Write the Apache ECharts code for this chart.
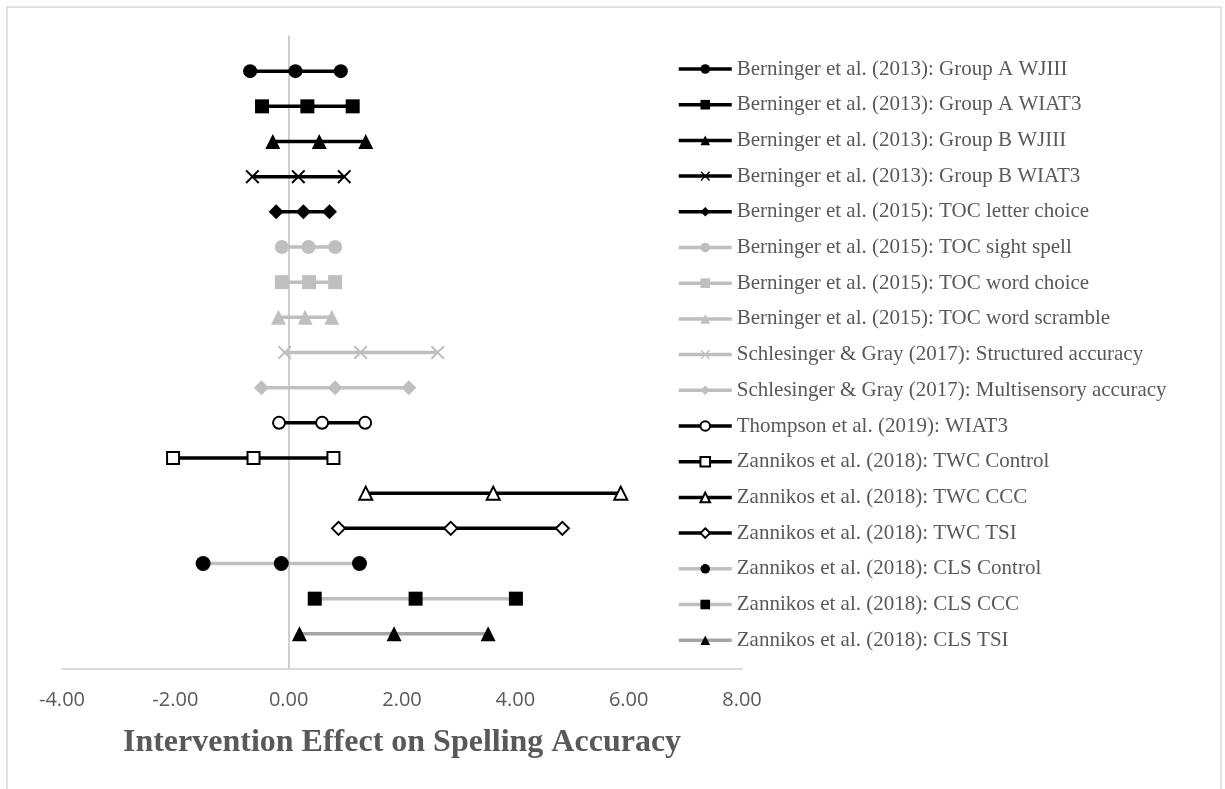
<!DOCTYPE html>
<html>
<head>
<meta charset="utf-8">
<script src="https://cdn.jsdelivr.net/npm/echarts@6/dist/echarts.min.js"></script>
<style>
html,body{margin:0;padding:0;background:#fff;}
#chart{width:1225px;height:789px;}
</style>
</head>
<body>
<div id="chart"></div>
<script>
// ---- data ----
const studyLabels = [
  'Berninger et al. (2013): Group A WJIII',
  'Berninger et al. (2013): Group A WIAT3',
  'Berninger et al. (2013): Group B WJIII',
  'Berninger et al. (2013): Group B WIAT3',
  'Berninger et al. (2015): TOC letter choice',
  'Berninger et al. (2015): TOC sight spell',
  'Berninger et al. (2015): TOC word choice',
  'Berninger et al. (2015): TOC word scramble',
  'Schlesinger & Gray (2017): Structured accuracy',
  'Schlesinger & Gray (2017): Multisensory accuracy',
  'Thompson et al. (2019): WIAT3',
  'Zannikos et al. (2018): TWC Control',
  'Zannikos et al. (2018): TWC CCC',
  'Zannikos et al. (2018): TWC TSI',
  'Zannikos et al. (2018): CLS Control',
  'Zannikos et al. (2018): CLS CCC',
  'Zannikos et al. (2018): CLS TSI'
];
const lowerCI  = [-0.68, -0.47, -0.28, -0.64, -0.22, -0.12, -0.12, -0.18, -0.07, -0.48, -0.17, -2.04, 1.36, 0.88, -1.51, 0.46, 0.19];
const effect   = [ 0.12,  0.33,  0.54,  0.17,  0.26,  0.35,  0.36,  0.29,  1.27,  0.82,  0.59, -0.62, 3.61, 2.86, -0.13, 2.24, 1.86];
const upperCI  = [ 0.92,  1.13,  1.36,  0.98,  0.72,  0.82,  0.82,  0.76,  2.63,  2.12,  1.35,  0.79, 5.86, 4.83,  1.25, 4.01, 3.52];
const rowPos   = [17, 16, 15, 14, 13, 12, 11, 10, 9, 8, 7, 6, 5, 4, 3, 2, 1];
const xTicks   = [-4, -2, 0, 2, 4, 6, 8];

// ---- styles (kept separate from data) ----
const BLACK = '#000000', GRAY = '#bfbfbf', DGRAY = '#a6a6a6';
const XPATH = 'path://M0,1 L1,0 L5,4 L9,0 L10,1 L6,5 L10,9 L9,10 L5,6 L1,10 L0,9 L4,5 Z';
const styles = [
  {line: BLACK, mark: BLACK, sym: 'circle', size: 14},
  {line: BLACK, mark: BLACK, sym: 'rect', size: 14},
  {line: BLACK, mark: BLACK, sym: 'triangle', size: 15},
  {line: BLACK, mark: BLACK, sym: XPATH, size: 14},
  {line: BLACK, mark: BLACK, sym: 'diamond', size: 15},
  {line: GRAY, mark: GRAY, sym: 'circle', size: 14},
  {line: GRAY, mark: GRAY, sym: 'rect', size: 14},
  {line: GRAY, mark: GRAY, sym: 'triangle', size: 15},
  {line: GRAY, mark: GRAY, sym: XPATH, size: 14},
  {line: GRAY, mark: GRAY, sym: 'diamond', size: 15},
  {line: BLACK, mark: BLACK, sym: 'emptyCircle', size: 12, empty: true},
  {line: BLACK, mark: BLACK, sym: 'emptyRect', size: 12, empty: true},
  {line: BLACK, mark: BLACK, sym: 'emptyTriangle', size: 13, empty: true},
  {line: BLACK, mark: BLACK, sym: 'emptyDiamond', size: 13, empty: true},
  {line: GRAY, mark: BLACK, sym: 'circle', size: 15},
  {line: GRAY, mark: BLACK, sym: 'rect', size: 14},
  {line: DGRAY, mark: BLACK, sym: 'triangle', size: 15}
];

const series = studyLabels.map((name, i) => {
  const st = styles[i];
  return {
    name: name,
    type: 'line',
    data: [[lowerCI[i], rowPos[i]], [effect[i], rowPos[i]], [upperCI[i], rowPos[i]]],
    symbol: st.sym,
    symbolSize: st.size,
    showAllSymbol: true,
    lineStyle: {color: st.line, width: 3.5},
    itemStyle: st.empty
      ? {color: st.mark, borderColor: st.mark, borderWidth: 2}
      : {color: st.mark, borderWidth: 0},
    emphasis: {disabled: true},
    z: 2 + i
  };
});

const chart = echarts.init(document.getElementById('chart'), null, {renderer: 'canvas'});
chart.setOption({
  animation: false,
  backgroundColor: '#ffffff',
  graphic: [{
    type: 'rect',
    shape: {x: 7, y: 7, width: 1214, height: 820},
    style: {fill: 'none', stroke: '#d9d9d9', lineWidth: 1.5},
    silent: true, z: -10
  }],
  grid: {left: 62, right: 483, top: 36, bottom: 120, containLabel: false},
  xAxis: {
    type: 'value',
    min: xTicks[0], max: xTicks[xTicks.length - 1], interval: 2,
    axisLine: {show: true, onZero: false, lineStyle: {color: '#d0d0d0', width: 1.5}},
    axisTick: {show: false},
    splitLine: {show: false},
    axisLabel: {
      margin: 21,
      fontFamily: 'Open Sans', fontSize: 20, color: '#595959',
      formatter: v => v.toFixed(2)
    },
    name: 'Intervention Effect on Spelling Accuracy',
    nameLocation: 'middle',
    nameGap: 58,
    nameTextStyle: {fontFamily: 'Liberation Serif', fontWeight: 'bold', fontSize: 32, color: '#595959'}
  },
  yAxis: {
    type: 'value', min: 0, max: 18,
    axisLine: {show: true, onZero: true, lineStyle: {color: '#bfbfbf', width: 1.5}},
    axisTick: {show: false},
    axisLabel: {show: false},
    splitLine: {show: false}
  },
  legend: {
    orient: 'vertical',
    left: 677, top: 58,
    padding: 0,
    itemWidth: 53, itemHeight: 12, itemGap: 13.7,
    selectedMode: false,
    lineStyle: {width: 3.5},
    textStyle: {fontFamily: 'Liberation Serif', fontSize: 21, color: '#595959', lineHeight: 22},
    data: studyLabels
  },
  series: series
});
</script>
</body>
</html>
